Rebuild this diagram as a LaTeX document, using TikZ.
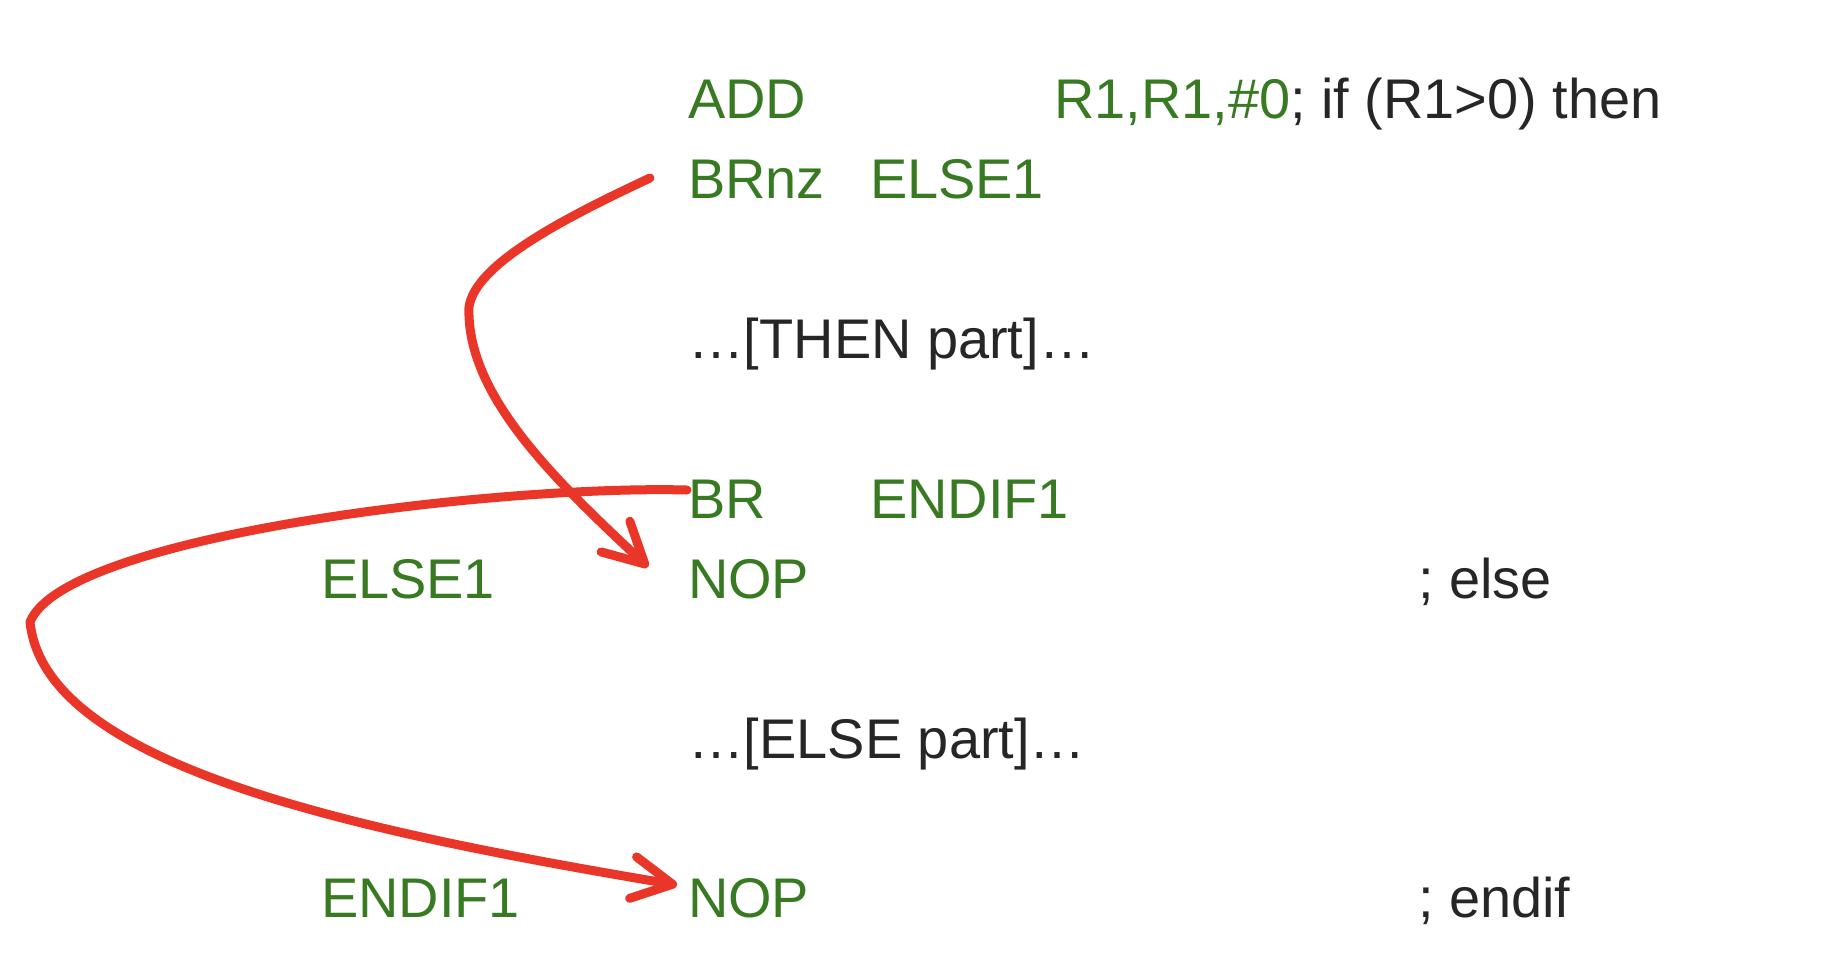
\documentclass[tikz,border=0pt]{standalone}
\usepackage{fontspec}
\setmainfont{Liberation Sans}
\usetikzlibrary{arrows.meta}
\definecolor{asmgreen}{RGB}{56,122,33}
\definecolor{txtdark}{RGB}{38,38,38}
\definecolor{arrred}{RGB}{234,54,40}
\begin{document}
\begin{tikzpicture}[x=0.01cm,y=-0.01cm,
  code/.style={anchor=base west,inner sep=0pt,outer sep=0pt,text=asmgreen,font=\fontsize{15.9pt}{19pt}\selectfont},
  plain/.style={code,text=txtdark},
  jump/.style={draw=arrred,line width=0.09cm,line cap=round,line join=round,
    -{Straight Barb[length=0.40cm,width=0.42cm,round]}}]
\path[use as bounding box] (0,0) rectangle (1840,966);
% instructions
\node[code] (add)      at (688,118) {ADD};
\node[code] (addops)   at (1054,118) {R1,R1,\#0\textcolor{txtdark}{; if (R1>0) then}};
\node[code] (brnz)     at (688,198) {BRnz};
\node[code] (brnzop)   at (870,198) {ELSE1};
\node[plain] (thenpart) at (688,358) {…[THEN part]…};
\node[code] (br)       at (688,518) {BR};
\node[code] (brop)     at (870,518) {ENDIF1};
\node[code] (else1)    at (321,598) {ELSE1};
\node[code] (nop1)     at (688,598) {NOP};
\node[plain] (elsecom) at (1418,598) {; else};
\node[plain] (elsepart) at (688,758) {…[ELSE part]…};
\node[code] (endif1)   at (321,917) {ENDIF1};
\node[code] (nop2)     at (688,917) {NOP};
\node[plain] (endifcom) at (1418,917) {; endif};
% jump arrows
\coordinate (j1s) at (650,178);
\coordinate (j1m) at (469,307);
\coordinate (j1e) at (648,567);
\draw[jump] (j1s) .. controls (560,220) and (475,265) .. (j1m)
                  .. controls (466,395) and (555,480) .. (j1e);
\coordinate (j2s) at (687,490);
\coordinate (j2m) at (30,622);
\coordinate (j2e) at (677,885);
\draw[jump] (j2s) .. controls (500,485) and (65,535) .. (j2m)
                  .. controls (45,765) and (350,830) .. (j2e);
\end{tikzpicture}
\end{document}
